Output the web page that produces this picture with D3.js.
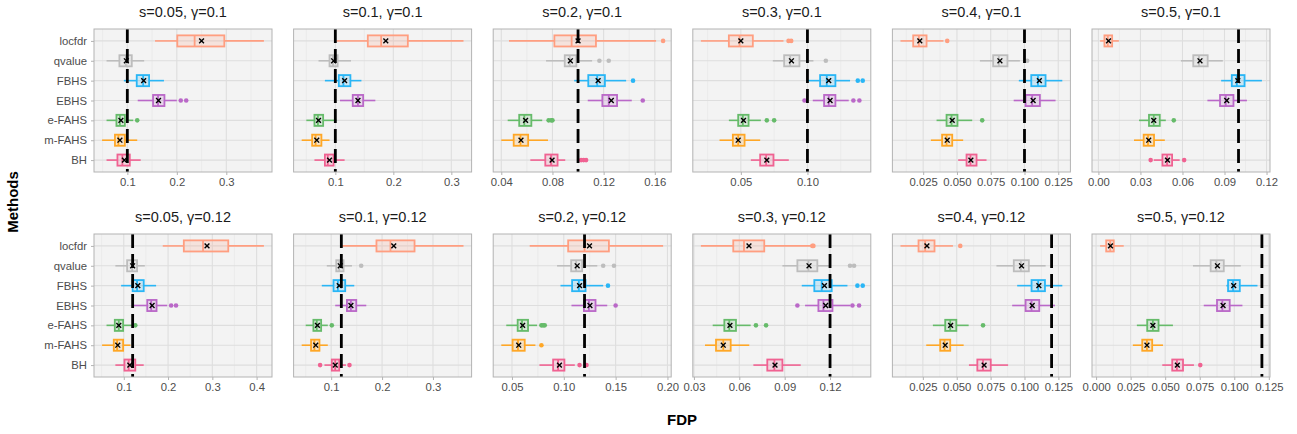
<!DOCTYPE html>
<html>
<head>
<meta charset="utf-8">
<script src="https://cdn.jsdelivr.net/npm/d3@7"></script>
<style>
body { margin: 0; background: #fff; }
svg text { font-family: "Liberation Sans", Arial, sans-serif; }
</style>
</head>
<body>
<svg></svg>
<script>
// categories, top to bottom
var methods = ['locfdr', 'qvalue', 'FBHS', 'EBHS', 'e-FAHS', 'm-FAHS', 'BH'];
var sValues = ['0.05', '0.1', '0.2', '0.3', '0.4', '0.5'];
var gammas = ['0.1', '0.12'];

// each row: [lower whisker, q1, median, q3, upper whisker, mean]
var stats_s005_g10 = [[0.156,0.201,0.236,0.296,0.376,0.250],[0.058,0.084,0.097,0.109,0.134,0.098],[0.093,0.119,0.132,0.144,0.174,0.133],[0.121,0.152,0.162,0.175,0.200,0.163],[0.058,0.078,0.085,0.095,0.112,0.087],[0.049,0.075,0.082,0.095,0.120,0.085],[0.058,0.080,0.090,0.105,0.127,0.094]];
var stats_s01_g10 = [[0.102,0.156,0.179,0.225,0.321,0.187],[0.071,0.090,0.096,0.104,0.127,0.097],[0.082,0.106,0.114,0.126,0.145,0.116],[0.108,0.130,0.139,0.148,0.169,0.139],[0.050,0.064,0.070,0.079,0.102,0.071],[0.042,0.060,0.066,0.076,0.090,0.068],[0.064,0.082,0.087,0.097,0.116,0.090]];
var stats_s02_g10 = [[0.046,0.0815,0.095,0.114,0.161,0.100],[0.075,0.0896,0.0935,0.0987,0.111,0.094],[0.097,0.108,0.115,0.121,0.1376,0.1157],[0.1076,0.119,0.124,0.1305,0.142,0.126],[0.045,0.054,0.058,0.0635,0.072,0.059],[0.040,0.0497,0.055,0.061,0.0765,0.0554],[0.0627,0.0744,0.0789,0.084,0.090,0.0797]];
var stats_s03_g10 = [[0.020,0.041,0.049,0.059,0.082,0.050],[0.074,0.0825,0.087,0.094,0.1045,0.088],[0.100,0.1095,0.1145,0.121,0.132,0.116],[0.104,0.1125,0.116,0.121,0.131,0.117],[0.041,0.048,0.0515,0.0558,0.065,0.052],[0.034,0.044,0.048,0.0528,0.0645,0.048],[0.0575,0.0645,0.069,0.0745,0.086,0.0695]];
var stats_s04_g10 = [[0.0082,0.0176,0.0218,0.0275,0.040,0.0225],[0.067,0.0768,0.081,0.0874,0.0966,0.0818],[0.0958,0.105,0.110,0.1156,0.128,0.111],[0.092,0.1008,0.1057,0.1114,0.123,0.1064],[0.0349,0.0423,0.046,0.0504,0.0613,0.0465],[0.0307,0.039,0.0423,0.0465,0.0546,0.0428],[0.0509,0.0571,0.060,0.0645,0.0719,0.0603]];
var stats_s05_g10 = [[0.0012,0.0043,0.0067,0.0098,0.0146,0.0072],[0.0589,0.0677,0.0718,0.078,0.0888,0.0725],[0.0876,0.0952,0.0988,0.1043,0.1167,0.0995],[0.0778,0.0868,0.0909,0.0964,0.106,0.0916],[0.029,0.0361,0.0395,0.0438,0.0481,0.0395],[0.0254,0.0323,0.0354,0.0397,0.0474,0.0359],[0.0395,0.0457,0.049,0.0526,0.058,0.0493]];
var stats_s005_g12 = [[0.188,0.2356,0.279,0.336,0.4165,0.288],[0.081,0.1075,0.119,0.130,0.1475,0.120],[0.094,0.120,0.130,0.145,0.173,0.1317],[0.121,0.153,0.162,0.174,0.198,0.164],[0.061,0.0797,0.0887,0.0985,0.120,0.0887],[0.051,0.0774,0.085,0.0985,0.115,0.0864],[0.081,0.1015,0.111,0.126,0.145,0.1136]];
var stats_s01_g12 = [[0.121,0.189,0.2165,0.2638,0.360,0.223],[0.0914,0.110,0.1158,0.1243,0.1408,0.1178],[0.0816,0.1046,0.1132,0.1276,0.1454,0.1158],[0.108,0.131,0.1388,0.1493,0.169,0.1388],[0.050,0.0651,0.0717,0.0803,0.0934,0.073],[0.0421,0.0605,0.0671,0.077,0.0934,0.0697],[0.0868,0.1013,0.1079,0.1158,0.129,0.108]];
var stats_s02_g12 = [[0.0671,0.1042,0.12,0.1435,0.1958,0.1248],[0.0935,0.1071,0.1119,0.1177,0.1323,0.1129],[0.0968,0.108,0.1145,0.121,0.138,0.1152],[0.1074,0.1194,0.1242,0.1306,0.1419,0.1252],[0.0445,0.0555,0.0597,0.0655,0.0742,0.0603],[0.0397,0.0506,0.0558,0.0623,0.0726,0.0565],[0.0765,0.0897,0.0945,0.1006,0.1106,0.0958]];
var stats_s03_g12 = [[0.0346,0.056,0.0631,0.0765,0.1074,0.0664],[0.0885,0.0984,0.1057,0.1116,0.12,0.1061],[0.1013,0.1096,0.1145,0.1211,0.1315,0.1163],[0.1035,0.1123,0.1156,0.1216,0.1332,0.1171],[0.0424,0.0501,0.0534,0.0578,0.0675,0.0538],[0.0373,0.0446,0.0494,0.0543,0.0666,0.0494],[0.0693,0.0785,0.0832,0.0885,0.1006,0.0836]];
var stats_s04_g12 = [[0.0085,0.0218,0.0267,0.0336,0.0472,0.028],[0.0793,0.0921,0.0973,0.1032,0.1156,0.0978],[0.0946,0.1052,0.1101,0.1151,0.1279,0.1106],[0.0909,0.1008,0.1052,0.1109,0.1225,0.1057],[0.0324,0.0415,0.0452,0.0497,0.0588,0.0455],[0.0275,0.0378,0.041,0.0452,0.0551,0.0415],[0.059,0.0652,0.0694,0.0751,0.0879,0.0702]];
var stats_s05_g12 = [[0.0029,0.0073,0.0102,0.0128,0.020,0.0104],[0.0701,0.0829,0.087,0.0924,0.1047,0.0878],[0.0943,0.0955,0.0991,0.104,0.1168,0.0996],[0.0779,0.0875,0.0914,0.0967,0.1059,0.0919],[0.0295,0.037,0.0411,0.0452,0.0556,0.0411],[0.0266,0.0334,0.0368,0.0406,0.0484,0.0368],[0.0479,0.0551,0.0585,0.0629,0.0708,0.0588]];

// outliers per method, same order as methods
var out_s005_g10 = [[],[],[],[0.208,0.219],[0.120],[],[]];
var out_s01_g10 = [[],[],[],[],[],[],[]];
var out_s02_g10 = [[0.1665],[0.1167,0.124],[0.143],[0.1506],[0.077,0.079,0.080],[],[0.1024,0.1044,0.1063]];
var out_s03_g10 = [[0.0858,0.0878],[0.1138],[0.1378,0.1415],[0.0978,0.1345,0.139],[0.0695,0.075],[],[]];
var out_s04_g10 = [[0.0428],[0.102],[],[],[0.0687],[],[]];
var out_s05_g10 = [[],[],[],[],[0.0538],[],[0.0373,0.0612]];
var out_s005_g12 = [[],[],[],[0.207,0.218],[0.126],[],[]];
var out_s01_g12 = [[],[0.159],[],[],[0.1013],[],[0.0783,0.136]];
var out_s02_g12 = [[],[0.138,0.1484],[0.1426],[0.150],[0.0784,0.080,0.0816],[0.0784],[0.1152,0.1219]];
var out_s03_g12 = [[0.1083,0.109],[0.1332,0.1359],[0.1381,0.1416],[0.0984,0.1348,0.1392],[0.071,0.0777],[],[]];
var out_s04_g12 = [[0.0526],[],[],[],[0.0694],[],[]];
var out_s05_g12 = [[],[],[],[],[],[],[0.0754]];

// x tick labels per panel
var ticks_s005_g10 = ['0.1', '0.2', '0.3'];
var ticks_s01_g10 = ['0.1', '0.2', '0.3'];
var ticks_s02_g10 = ['0.04', '0.08', '0.12', '0.16'];
var ticks_s03_g10 = ['0.05', '0.10'];
var ticks_s04_g10 = ['0.025', '0.050', '0.075', '0.100', '0.125'];
var ticks_s05_g10 = ['0.00', '0.03', '0.06', '0.09', '0.12'];
var ticks_s005_g12 = ['0.1', '0.2', '0.3', '0.4'];
var ticks_s01_g12 = ['0.1', '0.2', '0.3'];
var ticks_s02_g12 = ['0.05', '0.10', '0.15', '0.20'];
var ticks_s03_g12 = ['0.03', '0.06', '0.09', '0.12'];
var ticks_s04_g12 = ['0.025', '0.050', '0.075', '0.100', '0.125'];
var ticks_s05_g12 = ['0.000', '0.025', '0.050', '0.075', '0.100', '0.125'];

var panelStats = [stats_s005_g10, stats_s01_g10, stats_s02_g10, stats_s03_g10, stats_s04_g10, stats_s05_g10,
                  stats_s005_g12, stats_s01_g12, stats_s02_g12, stats_s03_g12, stats_s04_g12, stats_s05_g12];
var panelOut = [out_s005_g10, out_s01_g10, out_s02_g10, out_s03_g10, out_s04_g10, out_s05_g10,
                out_s005_g12, out_s01_g12, out_s02_g12, out_s03_g12, out_s04_g12, out_s05_g12];
var panelTicks = [ticks_s005_g10, ticks_s01_g10, ticks_s02_g10, ticks_s03_g10, ticks_s04_g10, ticks_s05_g10,
                  ticks_s005_g12, ticks_s01_g12, ticks_s02_g12, ticks_s03_g12, ticks_s04_g12, ticks_s05_g12];

var color = d3.scaleOrdinal()
    .domain(methods)
    .range(['#FF9E80', '#BDBDBD', '#29B6F6', '#BA68C8', '#66BB6A', '#FFA726', '#F06292']);

var W = 1297, H = 434;
var L = 94, R = 1270, gapX = 21.6;
var pw = (R - L - 5 * gapX) / 6;
var rowTop = [29, 234], ph = 143;

var svg = d3.select('svg').attr('width', W).attr('height', H);

var y = d3.scalePoint().domain(methods).range([0, ph]).padding(0.6);
var boxH = y.step() * 0.56;

panelStats.forEach(function (stats, k) {
    var row = Math.floor(k / 6), col = k % 6;
    var gamma = +gammas[row];
    var outs = panelOut[k];
    var tickLabels = panelTicks[k];
    var tickVals = tickLabels.map(function (t) { return +t; });

    var vals = [gamma];
    stats.forEach(function (d) { vals.push(d[0], d[4]); });
    outs.forEach(function (o) { vals = vals.concat(o); });
    var ext = d3.extent(vals), pad = (ext[1] - ext[0]) * 0.05;
    var x = d3.scaleLinear().domain([ext[0] - pad, ext[1] + pad]).range([0, pw]);

    var g = svg.append('g')
        .attr('transform', 'translate(' + (L + col * (pw + gapX)) + ',' + rowTop[row] + ')');

    g.append('rect').attr('width', pw).attr('height', ph).attr('fill', '#F3F3F3');

    // minor grid
    var step = tickVals[1] - tickVals[0];
    var minors = [tickVals[0] - step / 2].concat(tickVals.map(function (t) { return t + step / 2; }));
    minors = minors.filter(function (m) { return m > x.domain()[0] && m < x.domain()[1]; });
    g.selectAll('.minor').data(minors).enter().append('line')
        .attr('x1', x).attr('x2', x).attr('y1', 0).attr('y2', ph)
        .attr('stroke', '#E6E6E6').attr('stroke-width', 0.6);
    g.selectAll('.major').data(tickVals).enter().append('line')
        .attr('x1', x).attr('x2', x).attr('y1', 0).attr('y2', ph)
        .attr('stroke', '#DEDEDE').attr('stroke-width', 1.1);
    g.selectAll('.hgrid').data(methods).enter().append('line')
        .attr('x1', 0).attr('x2', pw).attr('y1', y).attr('y2', y)
        .attr('stroke', '#DEDEDE').attr('stroke-width', 1.1);

    var boxes = g.selectAll('g.box').data(stats).enter().append('g')
        .attr('class', 'box')
        .attr('transform', function (d, i) { return 'translate(0,' + y(methods[i]) + ')'; });

    boxes.append('line')
        .attr('x1', function (d) { return x(d[0]); }).attr('x2', function (d) { return x(d[1]); })
        .attr('stroke', function (d, i) { return color(methods[i]); }).attr('stroke-width', 1.6);
    boxes.append('line')
        .attr('x1', function (d) { return x(d[3]); }).attr('x2', function (d) { return x(d[4]); })
        .attr('stroke', function (d, i) { return color(methods[i]); }).attr('stroke-width', 1.6);
    boxes.append('rect')
        .attr('x', function (d) { return x(d[1]); })
        .attr('width', function (d) { return x(d[3]) - x(d[1]); })
        .attr('y', -boxH / 2).attr('height', boxH)
        .attr('fill', function (d, i) { return color(methods[i]); }).attr('fill-opacity', 0.2)
        .attr('stroke', function (d, i) { return color(methods[i]); }).attr('stroke-width', 1.8);
    boxes.append('line')
        .attr('x1', function (d) { return x(d[2]); }).attr('x2', function (d) { return x(d[2]); })
        .attr('y1', -boxH / 2).attr('y2', boxH / 2)
        .attr('stroke', function (d, i) { return color(methods[i]); }).attr('stroke-width', 1.8);
    boxes.each(function (d, i) {
        d3.select(this).selectAll('circle').data(outs[i]).enter().append('circle')
            .attr('cx', x).attr('r', 2.3).attr('fill', color(methods[i]));
    });
    boxes.append('path')
        .attr('d', function (d) {
            var cx = x(d[5]), s = 2.4;
            return 'M' + (cx - s) + ',' + (-s) + 'L' + (cx + s) + ',' + s +
                   'M' + (cx - s) + ',' + s + 'L' + (cx + s) + ',' + (-s);
        })
        .attr('stroke', '#000').attr('stroke-width', 1.4);

    g.append('line')
        .attr('x1', x(gamma)).attr('x2', x(gamma)).attr('y1', 0).attr('y2', ph)
        .attr('stroke', '#000').attr('stroke-width', 2.8).attr('stroke-dasharray', '14,6');

    g.append('rect').attr('width', pw).attr('height', ph)
        .attr('fill', 'none').attr('stroke', '#B3B3B3').attr('stroke-width', 1);

    var xAxis = g.append('g')
        .attr('transform', 'translate(0,' + ph + ')')
        .call(d3.axisBottom(x).tickValues(tickVals)
            .tickFormat(function (d, i) { return tickLabels[i]; })
            .tickSizeInner(3).tickSizeOuter(0).tickPadding(3));
    xAxis.select('.domain').remove();
    xAxis.selectAll('line').attr('stroke', '#B3B3B3');
    xAxis.selectAll('text').attr('fill', '#4D4D4D').style('font-size', '11.3px')
        .style('font-family', '"Liberation Sans", Arial, sans-serif');

    if (col === 0) {
        var yAxis = g.append('g')
            .call(d3.axisLeft(y).tickSizeInner(3).tickSizeOuter(0).tickPadding(4));
        yAxis.select('.domain').remove();
        yAxis.selectAll('line').attr('stroke', '#B3B3B3');
        yAxis.selectAll('text').attr('fill', '#4D4D4D').style('font-size', '11.3px')
            .style('font-family', '"Liberation Sans", Arial, sans-serif');
    }

    g.append('text')
        .attr('x', pw / 2).attr('y', -12)
        .attr('text-anchor', 'middle')
        .attr('fill', '#1A1A1A').style('font-size', '14.5px')
        .text('s=' + sValues[col] + ', \u03b3=' + gammas[row]);
});

svg.append('text')
    .attr('transform', 'translate(18,202) rotate(-90)')
    .attr('text-anchor', 'middle')
    .style('font-size', '15px').style('font-weight', 'bold')
    .text('Methods');

svg.append('text')
    .attr('x', (L + R) / 2).attr('y', 425)
    .attr('text-anchor', 'middle')
    .style('font-size', '15px').style('font-weight', 'bold')
    .text('FDP');
</script>
</body>
</html>
